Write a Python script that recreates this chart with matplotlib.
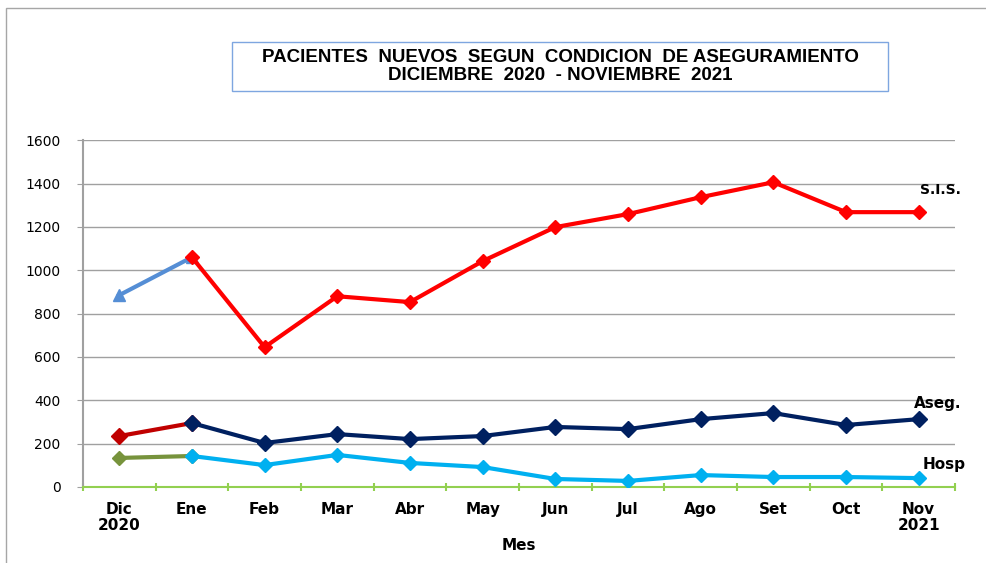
import matplotlib
matplotlib.use('Agg')
import matplotlib.pyplot as plt
from matplotlib.patches import Rectangle

meses = ['Dic\n2020', 'Ene', 'Feb', 'Mar', 'Abr', 'May', 'Jun', 'Jul', 'Ago', 'Set', 'Oct', 'Nov\n2021']
sis = [885, 1060, 645, 880, 853, 1042, 1199, 1259, 1337, 1406, 1268, 1268]
aseg = [235, 295, 203, 244, 221, 235, 277, 267, 313, 341, 286, 313]
hosp = [134, 143, 101, 148, 111, 92, 37, 28, 55, 46, 46, 41]

x = list(range(len(meses)))

fig = plt.figure(figsize=(9.87, 5.63), dpi=100)
fig.patches.append(Rectangle((0.006, -0.01), 1.2, 0.996, transform=fig.transFigure,
                             fill=False, edgecolor='#a6a6a6', lw=1))
ax = fig.add_axes([0.084, 0.135, 0.8836, 0.616])

# first segments (Dic-Ene) drawn in other colours
ax.plot(x[:2], sis[:2], color='#558ED5', lw=3, marker='^', ms=9, zorder=3)
ax.plot(x[1:], sis[1:], color='#FF0000', lw=3, marker='D', ms=7, zorder=3)
ax.plot(x[:2], aseg[:2], color='#C00000', lw=3, marker='D', ms=8, zorder=3)
ax.plot(x[1:], aseg[1:], color='#002060', lw=3, marker='D', ms=8, zorder=3)
ax.plot(x[:2], hosp[:2], color='#77933C', lw=3, marker='D', ms=7, zorder=3)
ax.plot(x[1:], hosp[1:], color='#00B0F0', lw=3, marker='D', ms=7, zorder=3)

ax.set_xlim(-0.5, 11.5)
ax.set_ylim(0, 1600)
ax.set_yticks(range(0, 1601, 200))
ax.yaxis.grid(True, color='#a0a0a0', lw=1)
ax.set_axisbelow(True)
ax.set_xticks(x)
ax.set_xticklabels(meses, fontweight='bold', fontsize=11, family='DejaVu Sans', linespacing=1.05)
ax.set_xticks([i + 0.5 for i in range(-1, 12)], minor=True)
ax.tick_params(axis='x', which='major', length=0, pad=11)
ax.tick_params(axis='x', which='minor', length=6, color='#92D050', width=1.5, direction='inout')
ax.tick_params(axis='y', length=4, color='#a0a0a0', labelsize=10, pad=12)

for s in ['top', 'right']:
    ax.spines[s].set_visible(False)
ax.spines['left'].set_color('#a0a0a0')
ax.spines['left'].set_linewidth(1.5)
ax.spines['bottom'].set_color('#92D050')
ax.spines['bottom'].set_linewidth(1.5)

ax.set_xlabel('Mes', fontweight='bold', fontsize=11, family='DejaVu Sans', labelpad=4)

ax.text(11.02, 1370, 'S.I.S.', fontweight='bold', fontsize=10, family='DejaVu Sans', va='center')
ax.text(10.93, 383, 'Aseg.', fontweight='bold', fontsize=11, family='DejaVu Sans', va='center')
ax.text(11.05, 105, 'Hosp', fontweight='bold', fontsize=11, family='DejaVu Sans', va='center')

fig.patches.append(Rectangle((0.235, 0.838), 0.665, 0.087, transform=fig.transFigure,
                             fill=False, edgecolor='#7ea6e0', lw=1))
fig.text(0.5675, 0.882, 'PACIENTES  NUEVOS  SEGUN  CONDICION  DE ASEGURAMIENTO\nDICIEMBRE  2020  - NOVIEMBRE  2021',
         ha='center', va='center', fontsize=13.5, fontweight='bold', linespacing=1.12,
         family='Liberation Sans')

fig.savefig('out.png', dpi=100)
